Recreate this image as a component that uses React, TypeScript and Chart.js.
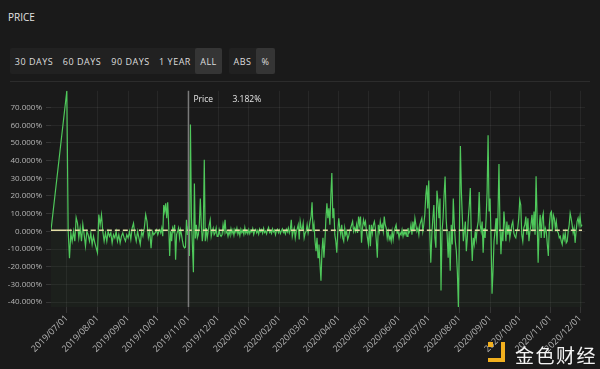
import { useEffect, useRef } from 'react';
import { Chart, registerables } from 'chart.js';

Chart.register(...registerables);

// ---- data: daily % change of price, grouped by month ----
const launch2019 = [0.6]; // 2019-06-15
const jul2019 = [79.5, 0.5, -15.2, -1, -5.6, 0, -5.6, 7.8, 4.6, -3.7, 1.9, -5.6, 4, -1.9, -8.4, 0, -1.9, -5.6, -0.9, -7.4, -2.8, -6.5, -9.3];
const aug2019 = [-12.1, 9.5, 3.7, 9.3, 0, -5.6, -0.9, -5.6, 0, -2.8, -0.9, -6.5, -1.9, -3.7, 0, -5.6, -1.9, -6.5, -2.8, -0.9, -3.7, -5.6, -1.9];
const sep2019 = [-3.7, 0, -4.6, 1.9, 4.6, -1.9, -5.6, 0, -3.7, -7.4, 0, -2.8, 1.9, 9.5, 5.6, -3.7, 0, -9.5, 0, -1.9, -0.9, 0.9];
const oct2019 = [-1.9, 0, 0.9, -0.9, 1.9, -2.8, 14.9, 11.2, 15.8, 7.4, 16.4, 3.7, -13.9, 0, -5.6, 1.9, 0, 3.7, -16, -1.9, 0, 1.9, -3.7, 0.9, -1.9, -5.6, -8.4, -9.3, -8.9, 6.5, -2];
const nov2019 = [3.182, -14, 60.5, 8, -8, -23.2, 27, -4, 3.7, -3.7, -1.9, 4, 18.6, 3.7, -5.6, 0, 40.5, -5.6, 1.9, -3.7, 0, 3.7, 6.5, -2.8, 0, 1.9, -1.9, -0.9, 1.9, -2.8];
const dec2019 = [-2.8, 0.9, -1.9, -2.8, -1.9, 3.7, 0, 6.5, -0.9, 0, -2.8, 0, -1.9, 1.5, -1.2, 0.8, -2.2, 1.1, -0.6, 1.8, -1.5, 0.4, -2.4, 1.2, -0.8, 0.6, -1.7, 2.1, -1.1, 0.3, -1.4];
const jan2020 = [1.0, -1.3, 0.6, -0.4, 1.6, -1.8, 0.2, 1.1, -0.9, 0.5, -1.6, 1.3, -0.2, 0.9, -1.1, 1.7, -0.6, 0.3, -1.4, 0.8, 2.2, -0.7, 0.1, -1.2, 1.4, -0.3, 0.7, -1.9, 0.4, 1.2, -0.8];
const feb2020 = [0.8, -1.2, 0.5, 1.4, -0.7, 0.2, -1.5, 1.1, -0.4, 1.9, -0.9, 1, 6.5, -2.8, 0, 1.9, -3.7, 0, 1.5, 3.7, -4.6, 5.6, 1.9, 1, 4.6, -3.7, -1, 0, 3.7];
const mar2020 = [-0.9, 2, 5.6, 8.4, 16.4, 0, 3.7, -5.6, -11.2, -3.7, -14.9, -7.4, -18.6, -27.9, -11.2, -3.7, -14.9, -5.6, 7.4, 15.8, 7.4, 13, 3.7, 20.4, 33, 7.4, 13, -1.9, -5.6, -12.1, 0];
const apr2020 = [7.4, 1.9, -1.9, 3.7, -3.7, -5.6, 1.9, -1.9, 0, -4.6, -2.8, 0, 1.9, 3.7, 5.6, 0, 1.9, 0, 3.7, -0.9, 8.4, 3.7, 8.4, -6.5, 1.9, 6.5, 3.7, 5.6, 0, -3.7];
const may2020 = [-7.4, 3.7, -8.4, 3.7, -0.9, 3.7, 5.6, 1.9, -5.6, -14.9, 3.7, 0, 5.6, 1.9, 3.7, 0, 8.4, 3.7, 1.9, -3.7, 0, -4.6, -2.8, -5.6, 0, -4.6, 0, 1.9, 3.7, -0.9, 0];
const jun2020 = [-3.7, -0.9, -1.9, 0.9, -2.8, 0, -1.9, 0, -2.8, 1.9, -0.9, 0, 3.7, -1.9, 5.6, 0, 7.4, 3.7, 0, 1.9, -1.9, 3.7, 5.6, 7.4, 0, 3.7, 9.3, 20.4, 26, 13];
const jul2020 = [28.8, 0, -17.7, -1.9, 7.4, 14.9, -3.7, -9.3, 23, 16.7, 7.4, 18.6, -33.5, 0, 7.4, 20.4, 31, 7.4, -1.9, -14.9, 0, -22.3, 3.7, -7.4, 18.6, 3.7, -5.6, -11.2, -23.2, -42.8];
const aug2020 = [0, 48.3, 22.3, 7.4, -5.6, 0, 5.6, -11.2, -3.7, 7.4, 14.9, 24.5, -1.9, -16.7, -3.7, -7.4, 0, -4.6, 2, 5.6, 22.3, 3.7, 0, 5.6, -12.1, 1.9, -3.7, 7.4, 22.3, 54.3, 11.2];
const sep2020 = [18.6, -3.7, -35.3, -22.3, -5.6, 0, 7.4, -7.4, 9.3, 38.1, 3.7, -13, 0, -5.6, 11.2, 3.7, -5.6, 5.6, -1.9, 3.7, -3.7, 0, 3.7, 5.6, -0.9, -2.8, -3.7, 0, 1.9, 7.4];
const oct2020 = [17.7, 14.9, -1.9, -5.6, 1.9, 3.7, 8.4, -1.9, 7.4, -5.6, 0, 3.7, 9.3, 0, 11.2, -1.9, 31.2, 7.4, -17.7, 1.9, 9.3, -3.7, 7.4, 10.2, -3.7, 1.9, 0, -7.4, -13.9, 3.7];
const nov2020 = [10.2, 11.2, 0, 9.3, 7.4, 1.9, 5.6, 0, -0.9, -3.7, -2.8, -5.6, -7.4, -1.9, -4.6, -0.9, -6.5, -5.6, 0, 3.7, 10.2, 7.4, 3.7, -0.9, 1.9, -6.5, 0, 5.6, 7.4, 3.7];
const dec2020 = [8.4, 2.8, 3.7];

// [first date, days covered, values]
const segments: [string, number, number[]][] = [
  ['2019-06-15', 16, launch2019],
  ['2019-07-01', 31, jul2019],
  ['2019-08-01', 31, aug2019],
  ['2019-09-01', 30, sep2019],
  ['2019-10-01', 31, oct2019],
  ['2019-11-01', 30, nov2019],
  ['2019-12-01', 31, dec2019],
  ['2020-01-01', 31, jan2020],
  ['2020-02-01', 29, feb2020],
  ['2020-03-01', 31, mar2020],
  ['2020-04-01', 30, apr2020],
  ['2020-05-01', 31, may2020],
  ['2020-06-01', 30, jun2020],
  ['2020-07-01', 31, jul2020],
  ['2020-08-01', 31, aug2020],
  ['2020-09-01', 30, sep2020],
  ['2020-10-01', 31, oct2020],
  ['2020-11-01', 30, nov2020],
  ['2020-12-01', 3, dec2020],
];

const monthTicks = [
  '2019-07-01', '2019-08-01', '2019-09-01', '2019-10-01', '2019-11-01', '2019-12-01',
  '2020-01-01', '2020-02-01', '2020-03-01', '2020-04-01', '2020-05-01', '2020-06-01',
  '2020-07-01', '2020-08-01', '2020-09-01', '2020-10-01', '2020-11-01', '2020-12-01',
];
const axisEndDate = '2020-12-06';
const baselineValue = 0.6;
const crosshairDate = '2019-11-01';
const crosshairName = 'Price';
const crosshairText = '3.182%';
const rangeButtons = ['30 DAYS', '60 DAYS', '90 DAYS', '1 YEAR', 'ALL'];
const modeButtons = ['ABS', '%'];

const BASE = Date.UTC(2019, 6, 1);
const DAY = 86400000;
const dayOf = (s: string) => {
  const [y, m, d] = s.split('-').map(Number);
  return (Date.UTC(y, m - 1, d) - BASE) / DAY;
};
const fmt = (day: number) => {
  const dt = new Date(BASE + Math.round(day) * DAY);
  const p = (n: number) => String(n).padStart(2, '0');
  return `${dt.getUTCFullYear()}/${p(dt.getUTCMonth() + 1)}/${p(dt.getUTCDate())}`;
};

const FONT = '"Open Sans", "Noto Sans", sans-serif';
const GREEN = '#4fc85b';

export default function App() {
  const ref = useRef<HTMLCanvasElement | null>(null);

  useEffect(() => {
    const canvas = ref.current;
    if (!canvas) return;
    const points = segments.flatMap(([start, span, vals]) =>
      vals.map((v, i) => ({ x: dayOf(start) + (i * span) / vals.length, y: v }))
    );
    const allY = points.map((p) => p.y);
    const firstX = points[0].x;
    const lastX = points[points.length - 1].x;
    const baseline = [
      { x: firstX, y: baselineValue },
      { x: dayOf(monthTicks[0]), y: baselineValue },
      { x: lastX, y: baselineValue },
    ];

    const crosshair = {
      id: 'crosshair',
      afterDatasetsDraw(chart: any) {
        const { ctx, chartArea, scales } = chart;
        const x = scales.x.getPixelForValue(dayOf(crosshairDate));
        ctx.save();
        ctx.strokeStyle = '#7a7a7a';
        ctx.lineWidth = 1.5;
        ctx.beginPath();
        ctx.moveTo(x, chartArea.top);
        ctx.lineTo(x, chartArea.bottom);
        ctx.stroke();
        ctx.fillStyle = '#e6e6e6';
        ctx.font = `8.5px ${FONT}`;
        ctx.textBaseline = 'middle';
        ctx.textAlign = 'left';
        ctx.fillText(crosshairName, x + 5, chartArea.top + 9);
        ctx.fillText(crosshairText, x + 44, chartArea.top + 9);
        ctx.restore();
      },
    };

    const chart = new Chart(canvas, {
      type: 'line',
      data: {
        datasets: [
          {
            label: 'baseline',
            data: baseline,
            borderColor: '#e4e0a6',
            borderWidth: 1.5,
            pointRadius: 0,
            fill: false,
            order: 0,
            segment: {
              borderDash: (c: any) => (c.p0DataIndex === 0 ? [] : [5, 3]),
            },
          } as any,
          {
            label: 'Price',
            data: points,
            borderColor: GREEN,
            borderWidth: 1.2,
            pointRadius: 0,
            tension: 0,
            fill: 'start',
            backgroundColor: 'rgba(80, 200, 90, 0.035)',
            order: 1,
          },
        ],
      },
      options: {
        animation: false,
        responsive: false,
        devicePixelRatio: 1,
        parsing: false as any,
        layout: { padding: { top: 5, right: 15, left: 0, bottom: 0 } },
        plugins: { legend: { display: false }, tooltip: { enabled: false } },
        scales: {
          x: {
            type: 'linear',
            min: firstX,
            max: dayOf(axisEndDate),
            grid: { color: 'rgba(255,255,255,0.06)', tickLength: 6, tickColor: 'rgba(255,255,255,0.12)' },
            border: { display: false },
            afterBuildTicks: (s: any) => {
              s.ticks = monthTicks.map((m) => ({ value: dayOf(m) }));
            },
            afterFit: (s: any) => {
              s.height = 62;
            },
            ticks: {
              autoSkip: false,
              minRotation: 45,
              maxRotation: 45,
              padding: 0,
              color: '#b4b4b4',
              font: { size: 9, family: FONT },
              callback: (v: any) => fmt(Number(v)),
            },
          },
          y: {
            type: 'linear',
            min: Math.min(...allY),
            max: Math.max(...allY),
            grid: { color: 'rgba(255,255,255,0.06)', tickLength: 5, tickColor: 'rgba(255,255,255,0.12)' },
            border: { display: false },
            afterFit: (s: any) => {
              s.width = 51;
            },
            ticks: {
              stepSize: 10,
              includeBounds: false,
              padding: 4,
              color: '#b4b4b4',
              font: { size: 8, family: FONT },
              callback: (v: any) => `${Number(v).toFixed(3)}%`,
            },
          },
        },
      },
      plugins: [crosshair],
    });
    return () => chart.destroy();
  }, []);

  const btn = (label: string, selected: boolean, w: number) => (
    <div
      key={label}
      style={{
        width: w,
        height: '100%',
        display: 'flex',
        alignItems: 'center',
        justifyContent: 'center',
        background: selected ? '#353535' : 'transparent',
        borderRadius: 2,
        letterSpacing: 0.5,
      }}
    >
      {label}
    </div>
  );
  const rangeWidths = [48, 48, 49, 40, 27];

  return (
    <div
      style={{
        position: 'fixed',
        left: 0,
        top: 0,
        width: 600,
        height: 369,
        background: '#1a1a1a',
        overflow: 'hidden',
        fontFamily: FONT,
        color: '#dedede',
      }}
    >
      <div style={{ position: 'absolute', left: 8, top: 11, fontSize: 10, lineHeight: '12px', color: '#e2e2e2' }}>PRICE</div>
      <div
        style={{
          position: 'absolute',
          left: 10,
          top: 48,
          height: 26,
          display: 'flex',
          background: '#212121',
          borderRadius: 2,
          fontSize: 9,
        }}
      >
        {rangeButtons.map((b, i) => btn(b, b === 'ALL', rangeWidths[i]))}
      </div>
      <div
        style={{
          position: 'absolute',
          left: 229,
          top: 48,
          height: 26,
          display: 'flex',
          background: '#212121',
          borderRadius: 2,
          fontSize: 9,
        }}
      >
        {modeButtons.map((b, i) => btn(b, b === '%', i === 0 ? 27 : 19))}
      </div>
      <div style={{ position: 'absolute', left: 10, top: 81, width: 580, height: 1, background: '#2c2c2c' }} />
      <canvas
        ref={ref}
        width={600}
        height={287}
        style={{ position: 'absolute', left: 0, top: 82, width: 600, height: 287 }}
      />
      <div style={{ position: 'absolute', left: 488, top: 342, width: 5, height: 5, background: '#f2b01e' }} />
      <div style={{ position: 'absolute', left: 500.5, top: 342, width: 4.5, height: 20, background: '#f2b01e' }} />
      <div style={{ position: 'absolute', left: 488, top: 357.5, width: 17, height: 4.5, background: '#f2b01e' }} />
      <div
        style={{
          position: 'absolute',
          left: 515,
          top: 345,
          fontSize: 19,
          lineHeight: '19px',
          letterSpacing: 1.5,
          color: '#f4f4f4',
          fontFamily: '"Noto Sans CJK SC", sans-serif',
        }}
      >
        金色财经
      </div>
    </div>
  );
}
